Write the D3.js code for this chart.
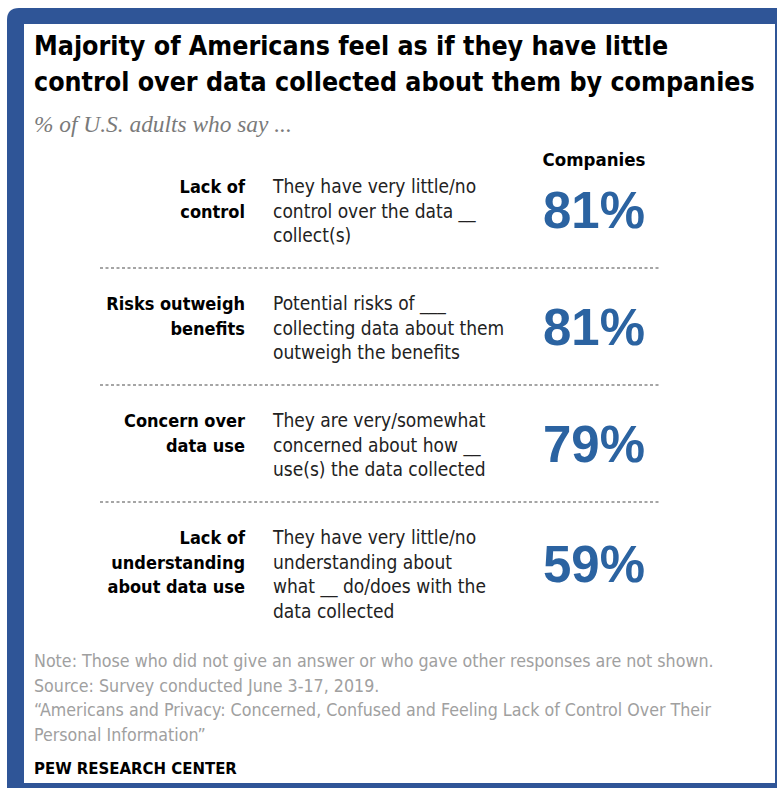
<!DOCTYPE html>
<html>
<head>
<meta charset="utf-8">
<script src="https://cdn.jsdelivr.net/npm/d3@7"></script>
<style>
  body { margin: 0; background: #fff; }
  text { font-family: "Liberation Sans Narrow", "DejaVu Sans Condensed", "Liberation Sans", sans-serif; }
</style>
</head>
<body>
<svg id="chart"></svg>
<script>
const titleLines = ["Majority of Americans feel as if they have little",
  "control over data collected about them by companies"]
const subtitle = "% of U.S. adults who say ..."
const columnHeader = "Companies"

const rowLabels = [
  ["Lack of", "control"],
  ["Risks outweigh", "benefits"],
  ["Concern over", "data use"],
  ["Lack of", "understanding", "about data use"]
]
const rowTexts = [
  ["They have very little/no", "control over the data __", "collect(s)"],
  ["Potential risks of ___", "collecting data about them", "outweigh the benefits"],
  ["They are very/somewhat", "concerned about how __", "use(s) the data collected"],
  ["They have very little/no", "understanding about", "what __ do/does with the", "data collected"]
]
const values = [81, 81, 79, 59]

const notes = [
  "Note: Those who did not give an answer or who gave other responses are not shown.",
  "Source: Survey conducted June 3-17, 2019.",
  "\u201cAmericans and Privacy: Concerned, Confused and Feeling Lack of Control Over Their",
  "Personal Information\u201d"
]
const credit = "PEW RESEARCH CENTER"

const W = 777, H = 788
const svg = d3.select("#chart").attr("width", W).attr("height", H)

// blue frame
svg.append("path")
  .attr("d", "M7,20 Q7,8 19,8 L777,8 L777,788 L7,788 Z")
  .attr("fill", "#2f5597")
svg.append("rect")
  .attr("x", 24).attr("y", 24)
  .attr("width", 751).attr("height", 759)
  .attr("fill", "#fff")

// size a text node so it matches a width
function fit(node, target) {
  let w = node.getComputedTextLength()
  let fs = parseFloat(d3.select(node).attr("font-size"))
  d3.select(node).attr("font-size", fs * target / w)
  return fs * target / w
}

// title
let title = svg.append("g")
let titleText = title.selectAll("text")
  .data(titleLines)
  .join("text")
  .attr("x", 34)
  .attr("y", (d, i) => 55 + i * 36)
  .attr("font-size", 28)
  .attr("font-weight", "bold")
  .attr("fill", "#000")
  .text(d => d)
let tfs = fit(titleText.nodes()[1], 721)
titleText.attr("font-size", tfs)

let sub = svg.append("text")
  .attr("x", 34).attr("y", 132)
  .attr("font-size", 20)
  .attr("font-style", "italic")
  .style("font-family", "'Liberation Serif', 'DejaVu Serif', serif")
  .attr("fill", "#7a7a7a")
  .text(subtitle)
fit(sub.node(), 258)

// rows
let y = d3.scaleBand()
  .domain(d3.range(values.length))
  .range([151, 619])

let lineH = 24.5
let labelX = 245, textX = 273, valueX = 594

svg.append("text")
  .attr("x", valueX).attr("y", 166)
  .attr("text-anchor", "middle")
  .attr("font-size", 18.5)
  .attr("font-weight", "bold")
  .text(columnHeader)

let rows = svg.selectAll("g.row")
  .data(values)
  .join("g")
  .attr("class", "row")
  .attr("transform", (d, i) => `translate(0,${y(i)})`)

rows.each(function(d, i) {
  let g = d3.select(this)
  g.selectAll("text.label")
    .data(rowLabels[i])
    .join("text")
    .attr("class", "label")
    .attr("x", labelX)
    .attr("y", (t, j) => 42 + j * lineH)
    .attr("text-anchor", "end")
    .attr("font-size", 18)
    .attr("font-weight", "bold")
    .attr("fill", "#000")
    .text(t => t)
  g.selectAll("text.desc")
    .data(rowTexts[i])
    .join("text")
    .attr("class", "desc")
    .attr("x", textX)
    .attr("y", (t, j) => 42 + j * lineH)
    .attr("font-size", 19)
    .attr("fill", "#222")
    .text(t => t)
  let v = g.append("text")
    .attr("x", valueX)
    .attr("y", y.bandwidth() / 2 + 18 + (rowTexts[i].length - 3) * 3)
    .attr("text-anchor", "middle")
    .attr("font-size", 46)
    .attr("font-weight", "bold")
    .style("font-family", "'Liberation Sans', Arial, sans-serif")
    .attr("fill", "#2b63a1")
    .text(d + "%")
  fit(v.node(), 102)
})

// dashed separators
svg.selectAll("line.sep")
  .data(d3.range(1, values.length))
  .join("line")
  .attr("class", "sep")
  .attr("x1", 100).attr("x2", 660)
  .attr("y1", i => y(i)).attr("y2", i => y(i))
  .attr("stroke", "#888")
  .attr("stroke-width", 1.5)
  .attr("stroke-dasharray", "3,2.5")

// notes
let noteText = svg.selectAll("text.note")
  .data(notes)
  .join("text")
  .attr("class", "note")
  .attr("x", 34)
  .attr("y", (d, i) => 667 + i * 24.5)
  .attr("font-size", 17)
  .attr("fill", "#a0a0a0")
  .text(d => d)
let nfs = fit(noteText.nodes()[0], 680)
noteText.attr("font-size", nfs)

let cr = svg.append("text")
  .attr("x", 34).attr("y", 774)
  .attr("font-size", 18)
  .attr("font-weight", "bold")
  .attr("fill", "#000")
  .text(credit)
fit(cr.node(), 203)
</script>
</body>
</html>
